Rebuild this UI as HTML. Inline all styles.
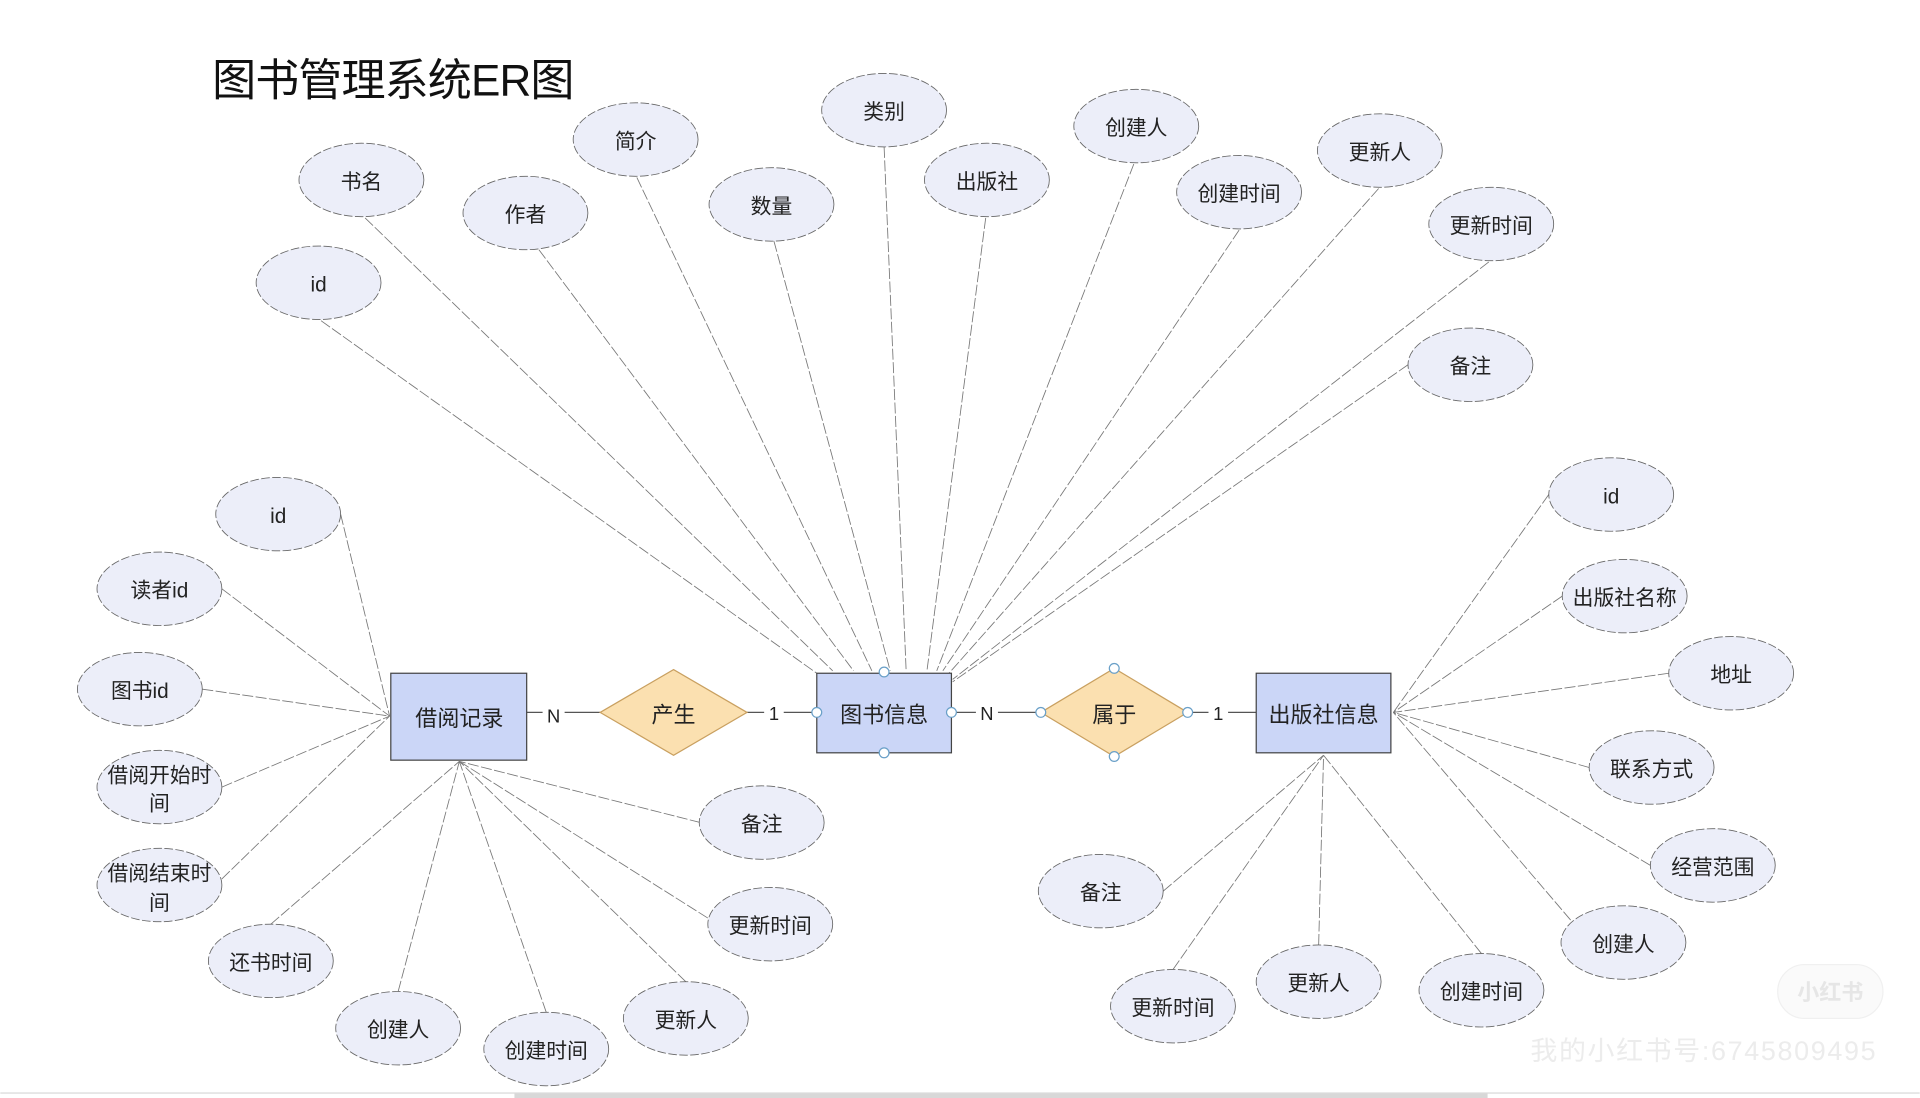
<!DOCTYPE html>
<html><head><meta charset="utf-8"><style>
html,body{margin:0;padding:0;background:#fff;width:1920px;height:1098px;overflow:hidden}
svg{display:block}
text{font-family:"Liberation Sans","Noto Sans CJK SC",sans-serif;fill:#222}
.e{fill:#eceef9;stroke:#666;stroke-width:0.7;stroke-dasharray:7 2}
.l{stroke:#777;stroke-width:0.7;stroke-dasharray:9 2;fill:none}
.t{font-size:17px;text-anchor:middle;dominant-baseline:central}
.h{fill:#fff;stroke:#6aa0c8;stroke-width:1}
</style></head><body>
<svg width="1920" height="1098" viewBox="0 0 1568 897" xmlns="http://www.w3.org/2000/svg">
<text x="173" y="78" textLength="296" style="font-size:36px;fill:#111">图书管理系统ER图</text>
<g class="l">
<line x1="262" y1="262" x2="667" y2="550"/>
<line x1="298" y1="178" x2="680" y2="548"/>
<line x1="440" y1="204" x2="697" y2="548"/>
<line x1="520" y1="145" x2="712" y2="548"/>
<line x1="632" y1="197" x2="727" y2="548"/>
<line x1="722" y1="120" x2="740" y2="548"/>
<line x1="805" y1="178" x2="757" y2="548"/>
<line x1="926" y1="134" x2="765" y2="548"/>
<line x1="1012" y1="188" x2="770" y2="548"/>
<line x1="1126" y1="154" x2="775" y2="550"/>
<line x1="1216" y1="214" x2="778" y2="555"/>
<line x1="1150" y1="298" x2="778" y2="557"/>
<line x1="278" y1="420" x2="318" y2="585"/>
<line x1="181" y1="481" x2="318" y2="585"/>
<line x1="165" y1="563" x2="318" y2="585"/>
<line x1="181" y1="643" x2="318" y2="585"/>
<line x1="181" y1="718" x2="318" y2="585"/>
<line x1="221" y1="755" x2="375" y2="622"/>
<line x1="325" y1="810" x2="375" y2="622"/>
<line x1="446" y1="827" x2="375" y2="622"/>
<line x1="560" y1="802" x2="375" y2="622"/>
<line x1="578" y1="750" x2="375" y2="622"/>
<line x1="572" y1="672" x2="375" y2="622"/>
<line x1="1265" y1="404" x2="1138" y2="582"/>
<line x1="1276" y1="487" x2="1138" y2="582"/>
<line x1="1363" y1="550" x2="1138" y2="582"/>
<line x1="1298" y1="627" x2="1138" y2="582"/>
<line x1="1348" y1="707" x2="1138" y2="582"/>
<line x1="1290" y1="760" x2="1138" y2="582"/>
<line x1="1210" y1="779" x2="1081" y2="617"/>
<line x1="1077" y1="772" x2="1081" y2="617"/>
<line x1="958" y1="792" x2="1081" y2="617"/>
<line x1="950" y1="728" x2="1081" y2="617"/>
</g>
<g stroke="#555" stroke-width="1">
<line x1="430" y1="582" x2="490" y2="582"/>
<line x1="610" y1="582" x2="667" y2="582"/>
<line x1="777" y1="582" x2="850" y2="582"/>
<line x1="970" y1="582" x2="1026" y2="582"/>
</g>
<g fill="#fff"><rect x="443" y="572" width="18" height="20"/><rect x="624" y="572" width="16" height="20"/><rect x="797" y="572" width="18" height="20"/><rect x="987" y="572" width="16" height="20"/></g>
<text class="t" x="452" y="585" style="font-size:15px">N</text>
<text class="t" x="632" y="583" style="font-size:15px">1</text>
<text class="t" x="806" y="583" style="font-size:15px">N</text>
<text class="t" x="995" y="583" style="font-size:15px">1</text>
<g fill="#cbd6f7" stroke="#444" stroke-width="1">
<rect x="319" y="550" width="111" height="71"/>
<rect x="667" y="550" width="110" height="65"/>
<rect x="1026" y="550" width="110" height="65"/>
</g>
<polygon points="490,582 550,547 610,582 550,617" fill="#fbe0b0" stroke="#c9a060"/>
<polygon points="850,582 910,546 970,582 910,618" fill="#fbe0b0" stroke="#c9a060"/>
<g style="font-size:18px">
<text class="t" x="375" y="587" style="font-size:18px">借阅记录</text>
<text class="t" x="722" y="584" style="font-size:18px">图书信息</text>
<text class="t" x="1081" y="584" style="font-size:18px">出版社信息</text>
<text class="t" x="550" y="584" style="font-size:18px">产生</text>
<text class="t" x="910" y="584" style="font-size:18px">属于</text>
</g>
<g>
<ellipse class="h" cx="722" cy="549" rx="4" ry="4"/><ellipse class="h" cx="722" cy="615" rx="4" ry="4"/>
<ellipse class="h" cx="667" cy="582" rx="4" ry="4"/><ellipse class="h" cx="777" cy="582" rx="4" ry="4"/>
<ellipse class="h" cx="850" cy="582" rx="4" ry="4"/><ellipse class="h" cx="970" cy="582" rx="4" ry="4"/>
<ellipse class="h" cx="910" cy="546" rx="4" ry="4"/><ellipse class="h" cx="910" cy="618" rx="4" ry="4"/>
</g>
<g>
<ellipse class="e" cx="295" cy="147" rx="51" ry="30"/><text class="t" x="295" y="149">书名</text>
<ellipse class="e" cx="519" cy="114" rx="51" ry="30"/><text class="t" x="519" y="116">简介</text>
<ellipse class="e" cx="722" cy="90" rx="51" ry="30"/><text class="t" x="722" y="92">类别</text>
<ellipse class="e" cx="928" cy="103" rx="51" ry="30"/><text class="t" x="928" y="105">创建人</text>
<ellipse class="e" cx="1127" cy="123" rx="51" ry="30"/><text class="t" x="1127" y="125">更新人</text>
<ellipse class="e" cx="429" cy="174" rx="51" ry="30"/><text class="t" x="429" y="176">作者</text>
<ellipse class="e" cx="630" cy="167" rx="51" ry="30"/><text class="t" x="630" y="169">数量</text>
<ellipse class="e" cx="806" cy="147" rx="51" ry="30"/><text class="t" x="806" y="149">出版社</text>
<ellipse class="e" cx="1012" cy="157" rx="51" ry="30"/><text class="t" x="1012" y="159">创建时间</text>
<ellipse class="e" cx="1218" cy="183" rx="51" ry="30"/><text class="t" x="1218" y="185">更新时间</text>
<ellipse class="e" cx="260" cy="231" rx="51" ry="30"/><text class="t" x="260" y="233">id</text>
<ellipse class="e" cx="1201" cy="298" rx="51" ry="30"/><text class="t" x="1201" y="300">备注</text>
<ellipse class="e" cx="227" cy="420" rx="51" ry="30"/><text class="t" x="227" y="422">id</text>
<ellipse class="e" cx="130" cy="481" rx="51" ry="30"/><text class="t" x="130" y="483">读者id</text>
<ellipse class="e" cx="114" cy="563" rx="51" ry="30"/><text class="t" x="114" y="565">图书id</text>
<ellipse class="e" cx="130" cy="643" rx="51" ry="30"/><text class="t" x="130" y="634">借阅开始时</text><text class="t" x="130" y="657">间</text>
<ellipse class="e" cx="130" cy="723" rx="51" ry="30"/><text class="t" x="130" y="714">借阅结束时</text><text class="t" x="130" y="738">间</text>
<ellipse class="e" cx="221" cy="785" rx="51" ry="30"/><text class="t" x="221" y="787">还书时间</text>
<ellipse class="e" cx="325" cy="840" rx="51" ry="30"/><text class="t" x="325" y="842">创建人</text>
<ellipse class="e" cx="446" cy="857" rx="51" ry="30"/><text class="t" x="446" y="859">创建时间</text>
<ellipse class="e" cx="560" cy="832" rx="51" ry="30"/><text class="t" x="560" y="834">更新人</text>
<ellipse class="e" cx="629" cy="755" rx="51" ry="30"/><text class="t" x="629" y="757">更新时间</text>
<ellipse class="e" cx="622" cy="672" rx="51" ry="30"/><text class="t" x="622" y="674">备注</text>
<ellipse class="e" cx="1316" cy="404" rx="51" ry="30"/><text class="t" x="1316" y="406">id</text>
<ellipse class="e" cx="1327" cy="487" rx="51" ry="30"/><text class="t" x="1327" y="489">出版社名称</text>
<ellipse class="e" cx="1414" cy="550" rx="51" ry="30"/><text class="t" x="1414" y="552">地址</text>
<ellipse class="e" cx="1349" cy="627" rx="51" ry="30"/><text class="t" x="1349" y="629">联系方式</text>
<ellipse class="e" cx="1399" cy="707" rx="51" ry="30"/><text class="t" x="1399" y="709">经营范围</text>
<ellipse class="e" cx="1326" cy="770" rx="51" ry="30"/><text class="t" x="1326" y="772">创建人</text>
<ellipse class="e" cx="1210" cy="809" rx="51" ry="30"/><text class="t" x="1210" y="811">创建时间</text>
<ellipse class="e" cx="1077" cy="802" rx="51" ry="30"/><text class="t" x="1077" y="804">更新人</text>
<ellipse class="e" cx="958" cy="822" rx="51" ry="30"/><text class="t" x="958" y="824">更新时间</text>
<ellipse class="e" cx="899" cy="728" rx="51" ry="30"/><text class="t" x="899" y="730">备注</text>
</g>
<rect x="1452" y="788" width="86" height="44" rx="22" fill="#fafafa" stroke="#f0f0f0"/>
<text class="t" x="1495" y="811" style="fill:#e6e6e6;font-size:18px;font-weight:bold">小红书</text>
<text x="1250" y="866" textLength="282" style="fill:#ececec;font-size:22px">我的小红书号:6745809495</text>
<line x1="0" y1="893" x2="1568" y2="893" stroke="#e6e6e6" stroke-width="1.5"/>
<rect x="420" y="893" width="795" height="4" fill="#d8d8d8"/>
</svg>
</body></html>
